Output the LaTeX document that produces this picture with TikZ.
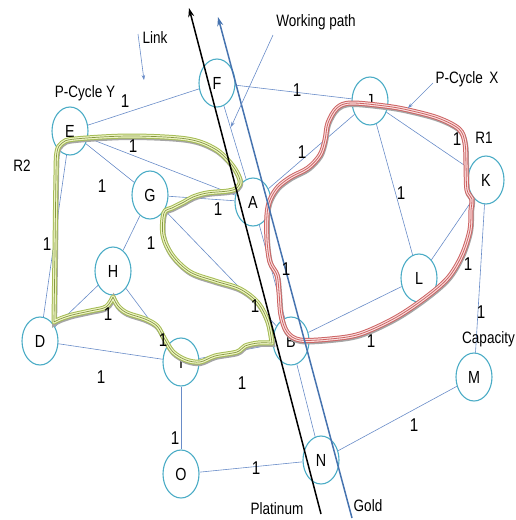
\documentclass[tikz,border=0pt]{standalone}
\usepackage{fontspec}
\setmainfont{Liberation Sans}[FakeStretch=0.82]
\usetikzlibrary{shapes.geometric,arrows.meta}
\definecolor{nodeC}{RGB}{75,172,198}
\definecolor{edgeC}{RGB}{105,140,200}
\definecolor{goldC}{RGB}{70,115,175}
\definecolor{redC}{RGB}{205,100,100}
\definecolor{redIn}{RGB}{250,225,225}
\definecolor{greenC}{RGB}{165,188,85}
\definecolor{greenIn}{RGB}{240,245,200}
\def\redpath{plot[smooth cycle,tension=0.55] coordinates {(267,215) (267,240) (270,262) (277,275) (279,292) (281,315) (287,332) (300,340) (330,339) (360,334) (395,318) (425,298) (448,278) (462,255) (470,230) (471,210) (472,199) (467,190) (466,165) (465,143) (459,129) (438,118) (408,110) (385,106) (351,103) (337,108) (328,123) (325,140) (320,155) (308,168) (291,177) (278,187) (270,200)}}
\def\greenpath{plot[smooth,tension=0.55] coordinates {(54,322) (55,250) (56,175) (57,152) (62,143) (75,139) (130,136) (187,139) (215,149) (232,165) (240,180) (237,188) (228,191) (207,193) (193,197) (184,202) (172,208) (164,213) (163,235) (172,255) (190,272) (215,281) (240,289) (258,303) (268,322) (272,343)} -- plot[smooth,tension=0.55] coordinates {(272,343) (258,343) (245,346) (237,352) (215,356) (200,362) (186,360) (173,352) (164,338) (157,326) (145,319) (127,313) (118,306) (113,297)} -- plot[smooth,tension=0.55] coordinates {(113,297) (106,307) (90,311) (72,315) (60,319) (54,322)}}
\tikzset{
  nd/.style={ellipse, draw=nodeC, line width=1.1pt, fill=white, minimum width=36pt, minimum height=48pt, inner sep=0pt, font=\fontsize{17.5}{19}\selectfont},
  ed/.style={draw=edgeC, line width=0.6pt},
  wt/.style={font=\fontsize{18.5}{20}\selectfont, inner sep=0pt},
  txt/.style={font=\fontsize{16.5}{18}\selectfont, inner sep=0pt},
  ann/.style={draw=edgeC, line width=0.6pt, -{Stealth[length=5pt,width=3.5pt]}},
}
\begin{document}
\begin{tikzpicture}[x=1pt,y=-1pt]
\useasboundingbox (0,0) rectangle (516,520);
% nodes
\node[nd] (F) at (217,83) {F};
\node[nd] (J) at (370,101) {J};
\node[nd] (E) at (70,131) {E};
\node[nd] (G) at (150,195) {G};
\node[nd] (A) at (253,202) {A};
\node[nd] (K) at (486,180) {K};
\node[nd] (H) at (113,271) {H};
\node[nd] (L) at (419,278) {L};
\node[nd] (D) at (40,341) {D};
\node[nd] (I) at (181,362) {I};
\node[nd] (B) at (291,341) {B};
\node[nd] (M) at (474,377) {M};
\node[nd] (N) at (321,460) {N};
\node[nd] (O) at (181,474) {O};
% edges
\draw[ed] (E) -- (F);
\draw[ed] (F) -- (J);
\draw[ed] (E) -- (A);
\draw[ed] (E) -- (G);
\draw[ed] (E) -- (D);
\draw[ed] (F) -- (A);
\draw[ed] (J) -- (A);
\draw[ed] (J) -- (K);
\draw[ed] (J) -- (L);
\draw[ed] (K) -- (L);
\draw[ed] (K) -- (M);
\draw[ed] (L) -- (B);
\draw[ed] (A) -- (B);
\draw[ed] (G) -- (A);
\draw[ed] (G) -- (H);
\draw[ed] (G) -- (B);
\draw[ed] (H) -- (D);
\draw[ed] (H) -- (I);
\draw[ed] (D) -- (I);
\draw[ed] (I) -- (B);
\draw[ed] (I) -- (O);
\draw[ed] (O) -- (N);
\draw[ed] (N) -- (M);
\draw[ed] (B) -- (N);
% p-cycle tubes
\draw[black!35, line width=5pt, shift={(0.6,1.5)}] \greenpath -- cycle;
\draw[greenC, line width=5pt, line join=round] \greenpath -- cycle;
\draw[greenIn, line width=3pt, line join=round] \greenpath -- cycle;
\draw[greenC!80!black, line width=0.7pt, line join=round] \greenpath -- cycle;
\draw[black!35, line width=5pt, shift={(0.6,1.5)}] \redpath;
\draw[redC, line width=5pt] \redpath;
\draw[redIn, line width=3pt] \redpath;
\draw[redC, line width=0.8pt] \redpath;
% long arrows
\coordinate (pb) at (321,514); \coordinate (pt) at (189,8);
\coordinate (gb) at (352,518); \coordinate (gt) at (218,17);
\draw[black, line width=1.5pt, -{Stealth[length=9pt,width=6pt]}] (pb) -- (pt);
\draw[goldC, line width=1.5pt, -{Stealth[length=9pt,width=6pt]}] (gb) -- (gt);
% annotation arrows
\coordinate (lk1) at (138,34); \coordinate (lk2) at (144,80);
\coordinate (wp1) at (273,35); \coordinate (wp2) at (231,127);
\coordinate (px1) at (433,83); \coordinate (px2) at (408,108);
\draw[ann] (lk1) -- (lk2);
\draw[ann] (wp1) -- (wp2);
\draw[ann] (px1) -- (px2);
% weights
\node[wt] (w1) at (125,101) {1};
\node[wt] (w2) at (297,90) {1};
\node[wt] (w3) at (133,146) {1};
\node[wt] (w4) at (457,139) {1};
\node[wt] (w5) at (102,186) {1};
\node[wt] (w6) at (302,152) {1};
\node[wt] (w7) at (401,193) {1};
\node[wt] (w8) at (218,209) {1};
\node[wt] (w9) at (47,244) {1};
\node[wt] (w10) at (151,243) {1};
\node[wt] (w11) at (286,269) {1};
\node[wt] (w12) at (468,264) {1};
\node[wt] (w13) at (108,314) {1};
\node[wt] (w14) at (163,340) {1};
\node[wt] (w15) at (255,306) {1};
\node[wt] (w16) at (481,312) {1};
\node[wt] (w17) at (371,341) {1};
\node[wt] (w18) at (101,377) {1};
\node[wt] (w19) at (242,383) {1};
\node[wt] (w20) at (175,438) {1};
\node[wt] (w21) at (256,468) {1};
\node[wt] (w22) at (414,425) {1};
% texts
\node[txt] (tlink) at (155,38) {Link};
\node[txt] (twork) at (316,22) {Working path};
\node[txt] (tpy) at (85,93) {P-Cycle Y};
\node[txt] (tpx) at (467,79) {P-Cycle\, X};
\node[txt] (tr2) at (22,166) {R2};
\node[txt] (tr1) at (484,138) {R1};
\node[txt, anchor=west] (tcap) at (462,339) {Capacity};
\node[txt] (tplat) at (277,509) {Platinum};
\node[txt] (tgold) at (368,506) {Gold};
\end{tikzpicture}
\end{document}
